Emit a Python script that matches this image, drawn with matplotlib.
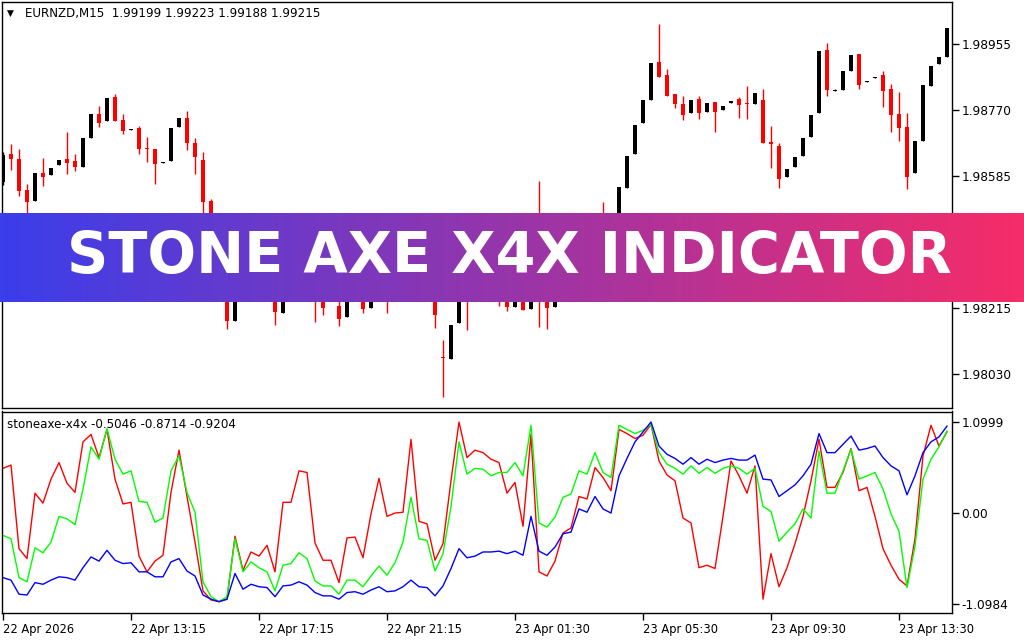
import numpy as np
import matplotlib.pyplot as plt

# EURNZD M15 candles
open_ = [
    1.98568, 1.98647, 1.98633, 1.98546, 1.98515, 1.98594, 1.98588, 1.98616, 1.98633, 1.98627,
    1.98610, 1.98692, 1.98759, 1.98739, 1.98806, 1.98742, 1.98714, 1.98720, 1.98664, 1.98661,
    1.98622, 1.98627, 1.98722, 1.98748, 1.98678, 1.98630, 1.98515, 1.98428, 1.98322, 1.98179,
    1.98294, 1.98344, 1.98308, 1.98356, 1.98280, 1.98202, 1.98266, 1.98322, 1.98372, 1.98308,
    1.98249, 1.98238, 1.98221, 1.98190, 1.98266, 1.98244, 1.98216, 1.98260, 1.98294, 1.98249,
    1.98288, 1.98316, 1.98378, 1.98322, 1.98280, 1.98078, 1.98073, 1.98174, 1.98260, 1.98244,
    1.98280, 1.98308, 1.98266, 1.98244, 1.98218, 1.98252, 1.98213, 1.98260, 1.98244, 1.98218,
    1.98266, 1.98308, 1.98344, 1.98322, 1.98378, 1.98434, 1.98406, 1.98462, 1.98552, 1.98647,
    1.98734, 1.98798, 1.98904, 1.98868, 1.98815, 1.98787, 1.98762, 1.98801, 1.98764, 1.98792,
    1.98770, 1.98790, 1.98801, 1.98790, 1.98787, 1.98798, 1.98680, 1.98669, 1.98582, 1.98610,
    1.98641, 1.98694, 1.98762, 1.98938, 1.98823, 1.98826, 1.98879, 1.98927, 1.98848, 1.98860,
    1.98868, 1.98829, 1.98759, 1.98722, 1.98594, 1.98683, 1.98837, 1.98899, 1.98918]
high = [
    1.98652, 1.98675, 1.98661, 1.98563, 1.98594, 1.98636, 1.98608, 1.98630, 1.98708, 1.98647,
    1.98692, 1.98759, 1.98781, 1.98804, 1.98815, 1.98759, 1.98717, 1.98725, 1.98694, 1.98661,
    1.98624, 1.98720, 1.98748, 1.98767, 1.98692, 1.98652, 1.98521, 1.98440, 1.98344, 1.98305,
    1.98356, 1.98364, 1.98372, 1.98367, 1.98294, 1.98277, 1.98344, 1.98386, 1.98384, 1.98322,
    1.98260, 1.98294, 1.98280, 1.98277, 1.98283, 1.98255, 1.98272, 1.98311, 1.98305, 1.98300,
    1.98333, 1.98395, 1.98389, 1.98333, 1.98294, 1.98126, 1.98168, 1.98272, 1.98266, 1.98294,
    1.98322, 1.98322, 1.98277, 1.98255, 1.98260, 1.98266, 1.98272, 1.98571, 1.98255, 1.98277,
    1.98322, 1.98356, 1.98364, 1.98392, 1.98434, 1.98512, 1.98473, 1.98554, 1.98641, 1.98728,
    1.98798, 1.98902, 1.99011, 1.98885, 1.98815, 1.98809, 1.98798, 1.98809, 1.98790, 1.98792,
    1.98781, 1.98795, 1.98806, 1.98837, 1.98818, 1.98829, 1.98725, 1.98678, 1.98605, 1.98638,
    1.98692, 1.98756, 1.98935, 1.98958, 1.98829, 1.98879, 1.98924, 1.98927, 1.98851, 1.98862,
    1.98879, 1.98843, 1.98820, 1.98762, 1.98683, 1.98840, 1.98893, 1.98918, 1.99000]
low = [
    1.98560, 1.98602, 1.98529, 1.98479, 1.98515, 1.98557, 1.98588, 1.98616, 1.98591, 1.98599,
    1.98610, 1.98692, 1.98722, 1.98739, 1.98739, 1.98703, 1.98714, 1.98647, 1.98624, 1.98563,
    1.98622, 1.98627, 1.98722, 1.98658, 1.98591, 1.98482, 1.98417, 1.98322, 1.98157, 1.98179,
    1.98283, 1.98294, 1.98297, 1.98266, 1.98168, 1.98202, 1.98255, 1.98308, 1.98294, 1.98176,
    1.98196, 1.98235, 1.98165, 1.98190, 1.98238, 1.98202, 1.98216, 1.98249, 1.98202, 1.98241,
    1.98277, 1.98305, 1.98300, 1.98260, 1.98160, 1.97966, 1.98073, 1.98174, 1.98154, 1.98238,
    1.98266, 1.98252, 1.98221, 1.98207, 1.98218, 1.98210, 1.98213, 1.98162, 1.98157, 1.98218,
    1.98255, 1.98294, 1.98308, 1.98311, 1.98367, 1.98392, 1.98395, 1.98456, 1.98552, 1.98647,
    1.98734, 1.98798, 1.98862, 1.98809, 1.98776, 1.98742, 1.98762, 1.98745, 1.98764, 1.98708,
    1.98770, 1.98790, 1.98748, 1.98745, 1.98787, 1.98678, 1.98608, 1.98552, 1.98582, 1.98610,
    1.98641, 1.98694, 1.98762, 1.98809, 1.98823, 1.98826, 1.98879, 1.98829, 1.98848, 1.98860,
    1.98778, 1.98708, 1.98683, 1.98549, 1.98594, 1.98683, 1.98837, 1.98899, 1.98918]
close = [
    1.98644, 1.98633, 1.98543, 1.98512, 1.98594, 1.98582, 1.98608, 1.98630, 1.98622, 1.98610,
    1.98692, 1.98759, 1.98734, 1.98804, 1.98739, 1.98711, 1.98717, 1.98661, 1.98661, 1.98619,
    1.98624, 1.98720, 1.98748, 1.98678, 1.98638, 1.98512, 1.98428, 1.98336, 1.98179, 1.98294,
    1.98344, 1.98308, 1.98356, 1.98280, 1.98204, 1.98266, 1.98322, 1.98372, 1.98308, 1.98244,
    1.98216, 1.98280, 1.98185, 1.98266, 1.98244, 1.98213, 1.98260, 1.98294, 1.98249, 1.98288,
    1.98316, 1.98378, 1.98322, 1.98280, 1.98196, 1.98076, 1.98168, 1.98260, 1.98244, 1.98280,
    1.98308, 1.98266, 1.98238, 1.98218, 1.98252, 1.98210, 1.98260, 1.98238, 1.98216, 1.98266,
    1.98308, 1.98344, 1.98322, 1.98378, 1.98420, 1.98406, 1.98462, 1.98554, 1.98641, 1.98728,
    1.98798, 1.98902, 1.98862, 1.98809, 1.98787, 1.98756, 1.98798, 1.98762, 1.98790, 1.98764,
    1.98781, 1.98795, 1.98784, 1.98787, 1.98818, 1.98678, 1.98675, 1.98577, 1.98605, 1.98638,
    1.98692, 1.98756, 1.98935, 1.98826, 1.98826, 1.98879, 1.98924, 1.98840, 1.98851, 1.98862,
    1.98823, 1.98756, 1.98720, 1.98582, 1.98683, 1.98840, 1.98893, 1.98918, 1.99000]

# stoneaxe-x4x buffers
red_line = [
    0.54, 0.58, -0.43, -0.55, 0.24, 0.12, 0.41, 0.61, 0.36, 0.25,
    0.86, 0.95, 0.67, 1.01, 0.41, 0.11, 0.13, -0.52, -0.71, -0.58,
    -0.51, 0.25, 0.76, 0.20, -0.35, -0.94, -1.05, -1.07, -1.04, -0.28,
    -0.69, -0.47, -0.52, -0.39, -0.71, 0.13, 0.13, 0.51, 0.49, -0.36,
    -0.57, -0.57, -0.84, -0.30, -0.29, -0.54, -0.01, 0.42, -0.04, 0.00,
    0.01, 0.89, -0.10, -0.13, -0.57, -0.37, 0.39, 1.10, 0.67, 0.76,
    0.73, 0.65, 0.61, 0.24, 0.37, -0.16, 0.95, -0.71, -0.76, -0.58,
    -0.24, -0.18, 0.20, 0.17, 0.55, 0.43, 0.27, 1.01, 0.96, 0.90,
    0.94, 1.07, 0.63, 0.46, 0.39, -0.06, -0.12, -0.66, -0.63, -0.67,
    -0.04, 0.63, 0.45, 0.24, 0.57, -1.04, -0.49, -0.89, -0.66, -0.37,
    -0.04, 0.39, 0.89, 0.31, 0.31, 0.49, 0.78, 0.27, 0.31, -0.04,
    -0.43, -0.63, -0.80, -0.88, -0.31, 0.69, 1.06, 0.81, 0.98]
green_line = [
    -0.27, -0.31, -0.78, -0.83, -0.42, -0.48, -0.35, -0.04, -0.07, -0.14,
    0.29, 0.80, 0.65, 1.02, 0.65, 0.47, 0.51, 0.14, 0.13, -0.11,
    -0.06, 0.51, 0.69, 0.25, 0.01, -0.83, -1.01, -1.07, -1.01, -0.31,
    -0.71, -0.59, -0.66, -0.71, -0.94, -0.63, -0.61, -0.48, -0.55, -0.82,
    -0.88, -0.88, -0.98, -0.81, -0.81, -0.89, -0.76, -0.64, -0.75, -0.60,
    -0.35, 0.19, -0.31, -0.33, -0.70, -0.49, 0.08, 0.86, 0.47, 0.54,
    0.53, 0.45, 0.49, 0.49, 0.61, 0.45, 1.06, -0.12, -0.17, -0.05,
    0.19, 0.23, 0.51, 0.47, 0.73, 0.49, 0.43, 1.06, 1.01, 0.96,
    1.00, 1.07, 0.73, 0.59, 0.54, 0.47, 0.57, 0.48, 0.55, 0.48,
    0.54, 0.57, 0.54, 0.47, 0.54, 0.08, 0.02, -0.34, -0.23, -0.13,
    0.05, -0.06, 0.75, 0.24, 0.24, 0.51, 0.77, 0.41, 0.45, 0.49,
    0.29, -0.01, -0.22, -0.90, -0.40, 0.41, 0.65, 0.80, 0.99]
blue_line = [
    -0.78, -0.81, -0.98, -0.99, -0.84, -0.86, -0.81, -0.77, -0.78, -0.81,
    -0.66, -0.53, -0.58, -0.45, -0.57, -0.61, -0.60, -0.71, -0.71, -0.77,
    -0.77, -0.59, -0.55, -0.70, -0.76, -0.99, -1.04, -1.07, -1.04, -0.73,
    -0.92, -0.86, -0.89, -0.90, -1.01, -0.88, -0.87, -0.83, -0.87, -0.96,
    -1.00, -1.00, -1.04, -0.96, -0.95, -0.98, -0.93, -0.89, -0.95, -0.94,
    -0.89, -0.81, -0.89, -0.90, -1.00, -0.88, -0.67, -0.43, -0.54, -0.52,
    -0.47, -0.47, -0.46, -0.49, -0.46, -0.51, -0.04, -0.46, -0.51, -0.41,
    -0.25, -0.23, 0.05, 0.01, 0.20, 0.05, 0.00, 0.45, 0.66, 0.86,
    0.98, 1.10, 0.81, 0.71, 0.66, 0.59, 0.67, 0.59, 0.65, 0.61,
    0.64, 0.66, 0.64, 0.64, 0.70, 0.41, 0.40, 0.20, 0.27, 0.34,
    0.45, 0.59, 0.96, 0.73, 0.73, 0.83, 0.93, 0.76, 0.78, 0.81,
    0.67, 0.57, 0.51, 0.22, 0.45, 0.73, 0.86, 0.92, 1.05]

price_ticks = [1.98030, 1.98215, 1.98400, 1.98585, 1.98770, 1.98955]
ind_ticks = [-1.0984, 0.0, 1.0999]
ind_tick_labels = ["-1.0984", "0.00", "1.0999"]
time_labels = ["22 Apr 2026", "22 Apr 13:15", "22 Apr 17:15", "22 Apr 21:15",
               "23 Apr 01:30", "23 Apr 05:30", "23 Apr 09:30", "23 Apr 13:30"]
bars_per_label = 16

header = "EURNZD,M15  1.99199 1.99223 1.99188 1.99215"
ind_header = "stoneaxe-x4x -0.5046 -0.8714 -0.9204"
banner_title = "STONE AXE X4X INDICATOR"

W, H = 1024, 640


def box(x0, y0, x1, y1):
    # pixel box (top-left origin) -> figure fraction rect
    return [x0 / W, 1 - y1 / H, (x1 - x0) / W, (y1 - y0) / H]


fig = plt.figure(figsize=(W / 100, H / 100), dpi=100)
fig.patch.set_facecolor("white")

ax = fig.add_axes(box(2, 2, 952, 408))
axi = fig.add_axes(box(2, 411.5, 952, 613))

o = np.array(open_)
h = np.array(high)
l = np.array(low)
c = np.array(close)
x = np.arange(len(o))
cols = np.where(c < o, "#ff0000", "#000000")

ax.vlines(x, l, h, colors=cols, linewidth=1)
body_low = np.minimum(o, c)
body_h = np.maximum(np.abs(c - o), 0.00003)
ax.bar(x, body_h, 0.62, bottom=body_low, color=cols, linewidth=0)

ax.set_xlim(-0.125, len(o) - 0.375)
ax.set_ylim(1.97936, 1.99072)
ax.set_xticks([])
ax.yaxis.tick_right()
ax.set_yticks(price_ticks)
ax.set_yticklabels(["%.5f" % p for p in price_ticks])
ax.tick_params(axis="y", direction="out", length=5, width=1, labelsize=8.7, pad=2)

axi.plot(x, red_line, color="#ff0000", linewidth=1)
axi.plot(x, green_line, color="#00ff00", linewidth=1)
axi.plot(x, blue_line, color="#0000ff", linewidth=1)
axi.set_xlim(-0.125, len(o) - 0.375)
axi.set_ylim(-1.2071, 1.2267)
axi.yaxis.tick_right()
axi.set_yticks(ind_ticks)
axi.set_yticklabels(ind_tick_labels)
axi.set_xticks(np.arange(len(time_labels)) * bars_per_label)
axi.set_xticklabels(time_labels, ha="left")
axi.tick_params(axis="y", direction="out", length=5, width=1, labelsize=8.7, pad=2)
axi.tick_params(axis="x", direction="out", length=5, width=1, labelsize=8.3, pad=2)

for a in (ax, axi):
    for s in a.spines.values():
        s.set_linewidth(1)
        s.set_color("black")

fig.text(7 / W, 1 - 13 / H, "\u25bc", fontsize=6.5, va="center", ha="left")
fig.text(25 / W, 1 - 14 / H, header, fontsize=8.6, va="center", ha="left")
fig.text(7 / W, 1 - 424 / H, ind_header, fontsize=8.6, va="center", ha="left")

# gradient banner
bax = fig.add_axes(box(0, 213, 1024, 302), zorder=5)
left_c = np.array([58, 62, 235]) / 255
right_c = np.array([246, 44, 104]) / 255
t = np.linspace(0, 1, 512)[None, :, None]
grad = left_c * (1 - t) + right_c * t
bax.imshow(grad, aspect="auto", extent=[0, 1, 0, 1])
bax.set_xlim(0, 1)
bax.set_ylim(0, 1)
bax.axis("off")
bax.text(0.497, 0.50, banner_title, color="white", fontsize=41.3,
         fontweight="bold", ha="center", va="center", family="DejaVu Sans")

fig.savefig("out.png", dpi=100)
